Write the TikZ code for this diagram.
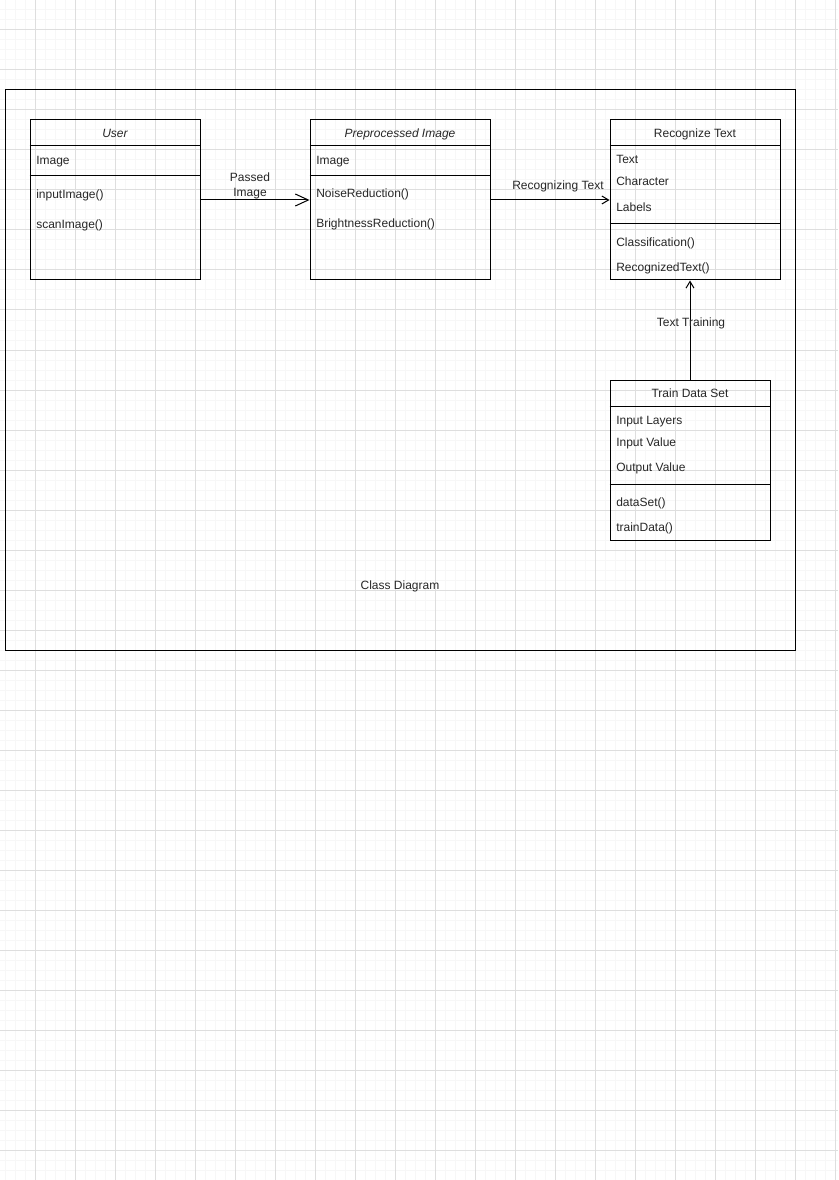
\documentclass[tikz,border=0pt]{standalone}
\usepackage{fontspec}
\setmainfont{Liberation Sans}
\usetikzlibrary{arrows.meta}

\begin{document}
\begin{tikzpicture}[x=7.5pt,y=-7.5pt,
  every node/.style={font=\fontsize{9}{11.25}\selectfont, text=black!85, inner sep=0pt, text height=6.45pt, text depth=0pt},
  minorgrid/.style={draw=black!3, line width=0.75pt},
  majorgrid/.style={draw=black!13, line width=0.75pt},
  umlbox/.style={draw, line width=0.75pt, minimum height=120pt},
  member/.style={anchor=west},
  divider/.style={line width=0.75pt},
  bigarrow/.style={line width=0.75pt, -{Straight Barb[length=9.75pt,width=9pt]}},
  smallarrow/.style={line width=0.75pt, -{Straight Barb[length=5pt,width=6pt]}}]

\useasboundingbox (0,0) rectangle (83.8,118);

\foreach \gx in {0.5,1.5,...,83.5} \draw[minorgrid] (\gx,0) -- (\gx,118);
\foreach \gy in {0,1,...,118} \draw[minorgrid] (0,\gy) -- (83.8,\gy);
\foreach \gx in {3.5,7.5,...,83.5} \draw[majorgrid] (\gx,0) -- (\gx,118);
\foreach \gy in {3,7,...,115} \draw[majorgrid] (0,\gy) -- (83.8,\gy);

\draw[line width=0.75pt] (0.5,9) rectangle (79.5,65);

\node[umlbox, minimum width=127.5pt] (user) at (11.5,20) {};
\node[umlbox, minimum width=135pt] (prep) at (40,20) {};
\node[umlbox, minimum width=127.5pt] (recog) at (69.5,20) {};
\node[umlbox, minimum width=120pt] (train) at (69,46) {};

\draw[divider] (user.west |- 0,14.6) -- (user.east |- 0,14.6);
\draw[divider] (user.west |- 0,17.6) -- (user.east |- 0,17.6);
\draw[divider] (prep.west |- 0,14.6) -- (prep.east |- 0,14.6);
\draw[divider] (prep.west |- 0,17.6) -- (prep.east |- 0,17.6);
\draw[divider] (recog.west |- 0,14.6) -- (recog.east |- 0,14.6);
\draw[divider] (recog.west |- 0,22.4) -- (recog.east |- 0,22.4);
\draw[divider] (train.west |- 0,40.6) -- (train.east |- 0,40.6);
\draw[divider] (train.west |- 0,48.4) -- (train.east |- 0,48.4);

\node (userhead) at (11.5,13.3) {\itshape User};
\node[member] (userimage) at (3.6,16.0) {Image};
\node[member] (userinput) at (3.6,19.4) {inputImage()};
\node[member] (userscan) at (3.6,22.4) {scanImage()};

\node (prephead) at (40,13.3) {\itshape Preprocessed Image};
\node[member] (prepimage) at (31.6,16.0) {Image};
\node[member] (prepnoise) at (31.6,19.3) {NoiseReduction()};
\node[member] (prepbright) at (31.6,22.3) {BrightnessReduction()};

\node (recoghead) at (69.5,13.3) {Recognize Text};
\node[member] (recogtext) at (61.6,15.9) {Text};
\node[member] (recogchar) at (61.6,18.1) {Character};
\node[member] (recoglabels) at (61.6,20.7) {Labels};
\node[member] (recogclass) at (61.6,24.2) {Classification()};
\node[member] (recogresult) at (61.6,26.7) {RecognizedText()};

\node (trainhead) at (69,39.3) {Train Data Set};
\node[member] (trainlayers) at (61.6,42.0) {Input Layers};
\node[member] (traininput) at (61.6,44.2) {Input Value};
\node[member] (trainoutput) at (61.6,46.7) {Output Value};
\node[member] (traindataset) at (61.6,50.2) {dataSet()};
\node[member] (traindata) at (61.6,52.7) {trainData()};

\draw[bigarrow] (user) -- (prep);
\draw[smallarrow] (prep) -- (recog);
\draw[smallarrow] (train) -- (train |- recog.south);

\node[align=center] (passedlbl) at (25,19.25) {Passed\\Image};
\node (recoglbl) at (55.8,18.5) {Recognizing Text};
\node (traininglbl) at (69.1,32.2) {Text Training};

\node (titlelbl) at (40,58.5) {Class Diagram};

\end{tikzpicture}
\end{document}
